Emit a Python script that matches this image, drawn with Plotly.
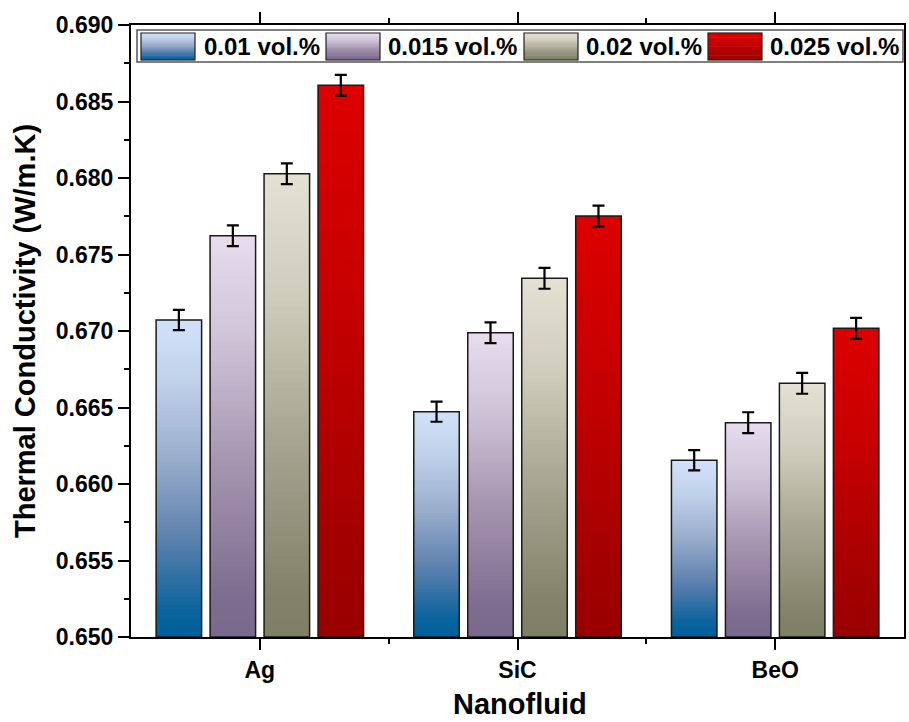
import plotly.graph_objects as go

# ---- data ----
categories = ["Ag", "SiC", "BeO"]
series_names = ["0.01 vol.%", "0.015 vol.%", "0.02 vol.%", "0.025 vol.%"]

k_001 = [0.67072, 0.66473, 0.66155]
k_0015 = [0.67623, 0.66989, 0.66401]
k_002 = [0.68028, 0.67344, 0.66658]
k_0025 = [0.68606, 0.67752, 0.67018]

err_001 = [0.00066, 0.00066, 0.00066]
err_0015 = [0.00068, 0.00068, 0.00068]
err_002 = [0.00068, 0.00068, 0.00068]
err_0025 = [0.00068, 0.00068, 0.00068]

y_min, y_max = 0.650, 0.690
y_tick_step = 0.005

values = [k_001, k_0015, k_002, k_0025]
errors = [err_001, err_0015, err_002, err_0025]

# vertical colour ramps, bottom (0) -> top (1)
ramps = [
    [(0.0, "#00609a"), (0.08, "#0a639c"), (0.3, "#5a7fad"), (0.55, "#97abca"), (0.8, "#bfd0ea"), (1.0, "#d2e2f9")],
    [(0.0, "#7a688e"), (0.1, "#7e6c90"), (0.45, "#a897b1"), (0.75, "#d0c4d9"), (1.0, "#e7ddee")],
    [(0.0, "#7f7f67"), (0.1, "#83836b"), (0.45, "#a9a894"), (0.75, "#d0cebd"), (1.0, "#e3e1d3")],
    [(0.0, "#9a0000"), (0.15, "#a10000"), (0.6, "#c50000"), (1.0, "#dd0000")],
]


def hex_rgb(h):
    h = h.lstrip("#")
    return [int(h[i:i + 2], 16) for i in (0, 2, 4)]


def ramp_color(ramp, t):
    for (t0, c0), (t1, c1) in zip(ramp[:-1], ramp[1:]):
        if t <= t1:
            f = 0 if t1 == t0 else (t - t0) / (t1 - t0)
            a, b = hex_rgb(c0), hex_rgb(c1)
            return "rgb({},{},{})".format(*[round(a[i] + (b[i] - a[i]) * f) for i in range(3)])
    return "rgb({},{},{})".format(*hex_rgb(ramp[-1][1]))


FONT = "Arial, Liberation Sans, sans-serif"
N_STEPS = 80
xpos = list(range(len(categories)))

fig = go.Figure()

for s, (vals, errs, ramp) in enumerate(zip(values, errors, ramps)):
    # gradient fill: nested bars from the base, tallest first, each covering the one before
    xs, hs, cols = [], [], []
    for j, v in enumerate(vals):
        span = v - y_min
        for k in range(N_STEPS, 0, -1):
            xs.append(xpos[j])
            hs.append(span * k / N_STEPS)
            cols.append(ramp_color(ramp, (k - 0.5) / N_STEPS))
    fig.add_trace(go.Bar(
        x=xs, y=hs, base=y_min, offsetgroup=str(s),
        marker=dict(color=cols, line=dict(width=0)),
        showlegend=False, hoverinfo="skip",
    ))
    # outline + error bars
    fig.add_trace(go.Bar(
        x=xpos, y=[v - y_min for v in vals], base=y_min, offsetgroup=str(s),
        name=series_names[s],
        marker=dict(color="rgba(0,0,0,0)", line=dict(color="#1a1a1a", width=1.5)),
        error_y=dict(type="data", array=errs, color="black", thickness=2.2, width=6),
        showlegend=False,
    ))

# ---- custom legend with gradient swatches ----
PLOT_L, PLOT_R, PLOT_T, PLOT_B = 131, 904, 25, 637


def px_x(p):
    return (p - PLOT_L) / (PLOT_R - PLOT_L)


def px_y(p):
    return (PLOT_B - p) / (PLOT_B - PLOT_T)


shapes = []
annotations = []
shapes.append(dict(type="rect", xref="paper", yref="paper",
                   x0=px_x(137), x1=px_x(903), y0=px_y(62), y1=px_y(30),
                   line=dict(color="#555555", width=1.5), fillcolor="white", layer="above"))
swatch_x = [141, 326, 524, 708]
text_x = [202, 386, 584, 768]
sw_top, sw_bot = 33, 60
n_sw = 24
for s in range(4):
    for k in range(n_sw):
        ya = sw_bot - (sw_bot - sw_top) * k / n_sw
        yb = sw_bot - (sw_bot - sw_top) * (k + 1) / n_sw
        shapes.append(dict(type="rect", xref="paper", yref="paper",
                           x0=px_x(swatch_x[s]), x1=px_x(swatch_x[s] + 54),
                           y0=px_y(ya + 0.3), y1=px_y(yb - 0.3),
                           line=dict(width=0), fillcolor=ramp_color(ramps[s], (k + 0.5) / n_sw),
                           layer="above"))
    shapes.append(dict(type="rect", xref="paper", yref="paper",
                       x0=px_x(swatch_x[s]), x1=px_x(swatch_x[s] + 54),
                       y0=px_y(sw_bot), y1=px_y(sw_top),
                       line=dict(color="#222222", width=1.2), layer="above"))
    annotations.append(dict(xref="paper", yref="paper", x=px_x(text_x[s]), y=px_y(47),
                            xanchor="left", yanchor="middle", showarrow=False,
                            text=series_names[s],
                            font=dict(family=FONT, size=24, color="black", weight="bold")))

# x-axis title near the bottom edge of the page
annotations.append(dict(xref="paper", yref="paper", x=px_x(520), y=px_y(704),
                        xanchor="center", yanchor="middle", showarrow=False,
                        text="Nanofluid",
                        font=dict(family=FONT, size=29, color="black", weight="bold")))

n_ticks = int(round((y_max - y_min) / y_tick_step)) + 1
y_ticks = [y_min + i * y_tick_step for i in range(n_ticks)]

fig.update_layout(
    width=909, height=722,
    margin=dict(l=131, r=5, t=25, b=85),
    paper_bgcolor="white", plot_bgcolor="white",
    barmode="group", bargap=0.162, bargroupgap=0.157,
    shapes=shapes, annotations=annotations,
    font=dict(family=FONT, color="black"),
    xaxis=dict(
        range=[-0.5, 2.5], tickmode="array", tickvals=xpos, ticktext=categories,
        ticks="outside", ticklen=11, tickwidth=2, tickcolor="black",
        minor=dict(tickmode="array", tickvals=[0.5, 1.5], ticks="outside", ticklen=5,
                   tickwidth=2, tickcolor="black"),
        showline=True, linecolor="black", linewidth=2, mirror="allticks",
        showgrid=False, zeroline=False, automargin=False,
        tickfont=dict(family=FONT, size=23, weight="bold"),
    ),
    yaxis=dict(
        range=[y_min, y_max], tickmode="array", tickvals=y_ticks, tickformat=".3f",
        ticks="outside", ticklen=11, tickwidth=2, tickcolor="black",
        minor=dict(dtick=y_tick_step / 2, tick0=y_min, ticks="outside", ticklen=5,
                   tickwidth=2, tickcolor="black"),
        showline=True, linecolor="black", linewidth=2, mirror=True,
        showgrid=False, zeroline=False, automargin=False,
        tickfont=dict(family=FONT, size=23, weight="bold"),
        title=dict(text="Thermal Conductivity (W/m.K)", standoff=12,
                   font=dict(family=FONT, size=29, weight="bold")),
    ),
)

fig.write_html("out.html")
